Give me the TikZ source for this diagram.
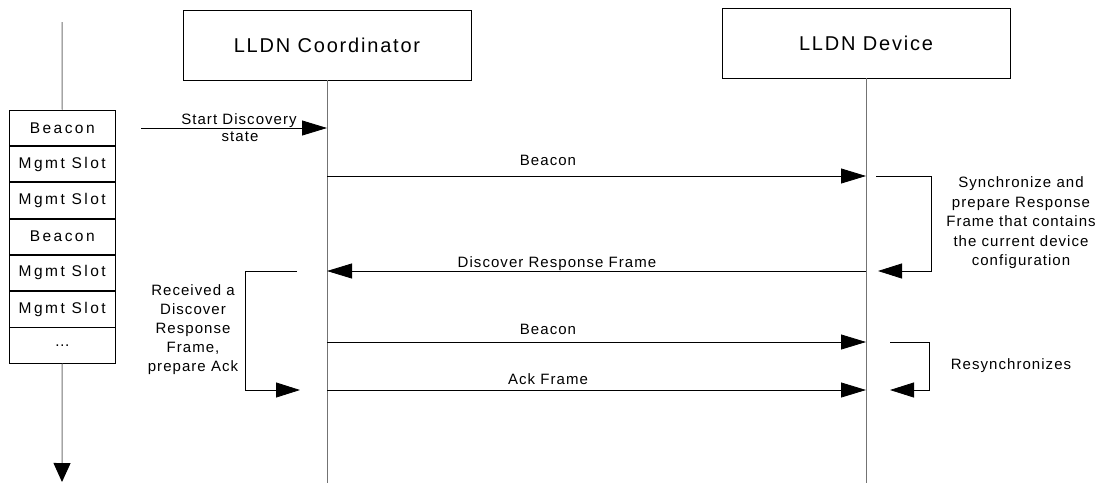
\documentclass[tikz,border=0pt]{standalone}
\usepackage{fontspec}
\setmainfont{Liberation Sans}
\newfontfamily\titlefam[LetterSpace=9]{Liberation Sans}
\newfontfamily\slotfam[LetterSpace=16]{Liberation Sans}
\newfontfamily\lblfam[LetterSpace=7]{Liberation Sans}
\usetikzlibrary{arrows.meta}

\begin{document}
\begin{tikzpicture}[x=1pt,y=-1pt,
  lifeline/.style={draw=black!55, line width=1pt},
  headbox/.style={draw, line width=0.9pt, minimum width=288pt, minimum height=70pt,
    inner sep=0pt, font=\titlefam\fontsize{20}{24}\selectfont},
  slot/.style={draw, line width=0.8pt, minimum width=105.5pt, minimum height=35.5pt,
    inner sep=0pt, font=\slotfam\fontsize{15.5}{18}\selectfont},
  lbl/.style={inner sep=0pt, font=\lblfam\fontsize{15}{18}\selectfont},
  note/.style={inner sep=0pt, align=center, font=\lblfam\fontsize{15}{19.5}\selectfont},
  msg/.style={draw, line width=0.8pt, -{Triangle[length=25pt,width=15pt]}},
  loopline/.style={draw, line width=0.8pt, -{Triangle[length=24pt,width=15pt]}}]
\useasboundingbox (0,0) rectangle (1102,483);

% participants and their lifelines
\node[headbox] (coord) at (327,45) {LLDN Coordinator};
\node[headbox] (dev) at (866,43) {LLDN Device};
\coordinate (coordEnd) at (327,483);
\coordinate (devEnd) at (866,483);
\draw[lifeline] (coord.south) -- (coordEnd);
\draw[lifeline] (dev.south) -- (devEnd);

% superframe slot stack on the time axis
\node[slot] (s1) at (62.25,127.75) {Beacon};
\node[slot, anchor=north] (s2) at (s1.south) {Mgmt Slot};
\node[slot, anchor=north] (s3) at (s2.south) {Mgmt Slot};
\node[slot, anchor=north] (s4) at (s3.south) {Beacon};
\node[slot, anchor=north] (s5) at (s4.south) {Mgmt Slot};
\node[slot, anchor=north] (s6) at (s5.south) {Mgmt Slot};
\node[slot, anchor=north] (s7) at (s6.south) {\dots};
\coordinate (tTop) at (62,22);
\coordinate (tEnd) at (62,482);
\draw[lifeline] (tTop) -- (s1.north);
\draw[lifeline, -{Triangle[length=19pt,width=17pt,color=black,fill=black]}] (s7.south) -- (tEnd);

% lifeline anchor points for messages
\foreach \n/\y in {a/128, b/176, c/271, d/342, e/390} {
  \coordinate (C\n) at (327,\y);
  \coordinate (D\n) at (866,\y);
}

% start of discovery
\coordinate (startSrc) at (141,128);
\draw[msg] (startSrc) -- (Ca);
\node[lbl, anchor=base] (startLbl) at (239,124) {Start Discovery};
\node[lbl, anchor=base] (stateLbl) at (240,141.7) {state};

% messages
\draw[msg] (Cb) -- (Db);
\node[lbl, anchor=base] (beacon1) at (548,165.5) {Beacon};
\draw[msg] (Dc) -- (Cc);
\node[lbl, anchor=base] (discLbl) at (557,267) {Discover Response Frame};
\draw[msg] (Cd) -- (Dd);
\node[lbl, anchor=base] (beacon2) at (548,334.5) {Beacon};
\draw[msg] (Ce) -- (De);
\node[lbl, anchor=base] (ackLbl) at (548,384.5) {Ack Frame};

% device self-activity: synchronize
\coordinate (l1a) at (876,176);
\coordinate (l1b) at (931,176);
\coordinate (l1c) at (931,271);
\coordinate (l1d) at (878,271);
\draw[loopline] (l1a) -- (l1b) -- (l1c) -- (l1d);
\node[note] (syncNote) at (1021,223) {Synchronize and\\prepare Response\\Frame that contains\\the current device\\configuration};

% device self-activity: resynchronize
\coordinate (l2a) at (890,342);
\coordinate (l2b) at (929,342);
\coordinate (l2c) at (929,390);
\coordinate (l2d) at (890,390);
\draw[loopline] (l2a) -- (l2b) -- (l2c) -- (l2d);
\node[lbl] (resync) at (1011,366) {Resynchronizes};

% coordinator self-activity: prepare ack
\coordinate (l3a) at (297,271);
\coordinate (l3b) at (245,271);
\coordinate (l3c) at (245,390);
\coordinate (l3d) at (300,390);
\draw[loopline] (l3a) -- (l3b) -- (l3c) -- (l3d);
\node[note, font=\lblfam\fontsize{15}{19}\selectfont] (ackNote) at (193,330) {Received a\\Discover\\Response\\Frame,\\prepare Ack};
\end{tikzpicture}
\end{document}
